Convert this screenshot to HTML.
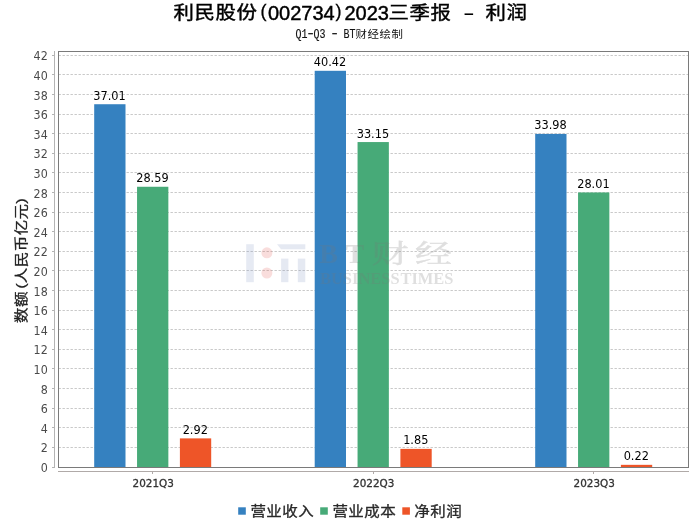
<!DOCTYPE html>
<html lang="zh"><head><meta charset="utf-8"><title>利民股份(002734)2023三季报 - 利润</title>
<style>html,body{margin:0;padding:0;background:#fff}svg{display:block}</style></head>
<body>
<svg width="700" height="524" viewBox="0 0 700 524">
<rect width="700" height="524" fill="#fff"/>
<text transform="translate(173.4,19.3) scale(1.155,1)" font-family="Liberation Sans, Noto Sans CJK SC, sans-serif" font-size="17.7" letter-spacing="0.55" fill="#000" stroke="#000" stroke-width="0.4">利民股份</text>
<text x="260.6" y="17.4" font-family="Liberation Sans, sans-serif" font-size="18" fill="#000" stroke="#000" stroke-width="0.3">(</text>
<text x="268" y="19.5" font-family="Liberation Sans, sans-serif" font-size="20" fill="#000" stroke="#000" stroke-width="0.45" >002734</text>
<text x="335.6" y="17.4" font-family="Liberation Sans, sans-serif" font-size="18" fill="#000" stroke="#000" stroke-width="0.3">)</text>
<text x="344.5" y="19.5" font-family="Liberation Sans, sans-serif" font-size="20" fill="#000" stroke="#000" stroke-width="0.45" >2023</text>
<text transform="translate(388.4,19.3) scale(1.155,1)" font-family="Liberation Sans, Noto Sans CJK SC, sans-serif" font-size="17.7" letter-spacing="0.55" fill="#000" stroke="#000" stroke-width="0.4">三季报</text>
<text transform="translate(463,19.6) scale(1.75,1.05)" font-family="Liberation Sans, sans-serif" font-size="20" fill="#000">-</text>
<text transform="translate(485.4,19.3) scale(1.155,1)" font-family="Liberation Sans, Noto Sans CJK SC, sans-serif" font-size="17.7" letter-spacing="0.55" fill="#000" stroke="#000" stroke-width="0.4">利润</text>
<g transform="translate(295.6,37.8) scale(0.8333,1)"><text x="0" y="0" font-family="Liberation Mono, monospace" font-size="12" fill="#111" stroke="#111" stroke-width="0.15">Q1</text><text x="21.6" y="0" font-family="Liberation Mono, monospace" font-size="12" fill="#111" stroke="#111" stroke-width="0.15">Q3</text><text x="57.6" y="0" font-family="Liberation Mono, monospace" font-size="12" fill="#111" stroke="#111" stroke-width="0.15">BT</text></g>
<text transform="translate(305.75,37.4) scale(1.35,1)" font-family="Liberation Mono, monospace" font-size="12" fill="#111" stroke="#111" stroke-width="0.15">-</text><text transform="translate(329.75,37.4) scale(1.35,1)" font-family="Liberation Mono, monospace" font-size="12" fill="#111" stroke="#111" stroke-width="0.15">-</text>
<g transform="translate(355.6,37.6) scale(1.1,1)"><text x="0" y="0" font-family="Liberation Sans, Noto Sans CJK SC, sans-serif" font-size="10.4" letter-spacing="0.5" fill="#111">财经绘制</text></g>
<line x1="58.5" x2="688.5" y1="467.5" y2="467.5" stroke="#c9c9c9" stroke-width="1" stroke-dasharray="2.4,1.6"/>
<line x1="58.5" x2="688.5" y1="447.5" y2="447.5" stroke="#c9c9c9" stroke-width="1" stroke-dasharray="2.4,1.6"/>
<line x1="58.5" x2="688.5" y1="427.5" y2="427.5" stroke="#c9c9c9" stroke-width="1" stroke-dasharray="2.4,1.6"/>
<line x1="58.5" x2="688.5" y1="408.5" y2="408.5" stroke="#c9c9c9" stroke-width="1" stroke-dasharray="2.4,1.6"/>
<line x1="58.5" x2="688.5" y1="388.5" y2="388.5" stroke="#c9c9c9" stroke-width="1" stroke-dasharray="2.4,1.6"/>
<line x1="58.5" x2="688.5" y1="368.5" y2="368.5" stroke="#c9c9c9" stroke-width="1" stroke-dasharray="2.4,1.6"/>
<line x1="58.5" x2="688.5" y1="349.5" y2="349.5" stroke="#c9c9c9" stroke-width="1" stroke-dasharray="2.4,1.6"/>
<line x1="58.5" x2="688.5" y1="329.5" y2="329.5" stroke="#c9c9c9" stroke-width="1" stroke-dasharray="2.4,1.6"/>
<line x1="58.5" x2="688.5" y1="310.5" y2="310.5" stroke="#c9c9c9" stroke-width="1" stroke-dasharray="2.4,1.6"/>
<line x1="58.5" x2="688.5" y1="290.5" y2="290.5" stroke="#c9c9c9" stroke-width="1" stroke-dasharray="2.4,1.6"/>
<line x1="58.5" x2="688.5" y1="270.5" y2="270.5" stroke="#c9c9c9" stroke-width="1" stroke-dasharray="2.4,1.6"/>
<line x1="58.5" x2="688.5" y1="251.5" y2="251.5" stroke="#c9c9c9" stroke-width="1" stroke-dasharray="2.4,1.6"/>
<line x1="58.5" x2="688.5" y1="231.5" y2="231.5" stroke="#c9c9c9" stroke-width="1" stroke-dasharray="2.4,1.6"/>
<line x1="58.5" x2="688.5" y1="212.5" y2="212.5" stroke="#c9c9c9" stroke-width="1" stroke-dasharray="2.4,1.6"/>
<line x1="58.5" x2="688.5" y1="192.5" y2="192.5" stroke="#c9c9c9" stroke-width="1" stroke-dasharray="2.4,1.6"/>
<line x1="58.5" x2="688.5" y1="172.5" y2="172.5" stroke="#c9c9c9" stroke-width="1" stroke-dasharray="2.4,1.6"/>
<line x1="58.5" x2="688.5" y1="153.5" y2="153.5" stroke="#c9c9c9" stroke-width="1" stroke-dasharray="2.4,1.6"/>
<line x1="58.5" x2="688.5" y1="133.5" y2="133.5" stroke="#c9c9c9" stroke-width="1" stroke-dasharray="2.4,1.6"/>
<line x1="58.5" x2="688.5" y1="114.5" y2="114.5" stroke="#c9c9c9" stroke-width="1" stroke-dasharray="2.4,1.6"/>
<line x1="58.5" x2="688.5" y1="94.5" y2="94.5" stroke="#c9c9c9" stroke-width="1" stroke-dasharray="2.4,1.6"/>
<line x1="58.5" x2="688.5" y1="74.5" y2="74.5" stroke="#c9c9c9" stroke-width="1" stroke-dasharray="2.4,1.6"/>
<line x1="58.5" x2="688.5" y1="55.5" y2="55.5" stroke="#c9c9c9" stroke-width="1" stroke-dasharray="2.4,1.6"/>
<rect x="94.20" y="104.23" width="31.3" height="362.97" fill="#3581c0"/>
<text transform="translate(109.55,99.73) scale(0.93,1)" text-anchor="middle" font-family="DejaVu Sans, Liberation Sans, sans-serif" font-size="12.2" fill="#000">37.01</text>
<rect x="137.05" y="186.76" width="31.3" height="280.44" fill="#47aa78"/>
<text transform="translate(152.40,182.26) scale(0.93,1)" text-anchor="middle" font-family="DejaVu Sans, Liberation Sans, sans-serif" font-size="12.2" fill="#000">28.59</text>
<rect x="179.90" y="438.38" width="31.3" height="28.82" fill="#ee5528"/>
<text transform="translate(195.25,433.88) scale(0.93,1)" text-anchor="middle" font-family="DejaVu Sans, Liberation Sans, sans-serif" font-size="12.2" fill="#000">2.92</text>
<rect x="314.70" y="70.80" width="31.3" height="396.40" fill="#3581c0"/>
<text transform="translate(330.05,66.30) scale(0.93,1)" text-anchor="middle" font-family="DejaVu Sans, Liberation Sans, sans-serif" font-size="12.2" fill="#000">40.42</text>
<rect x="357.55" y="142.06" width="31.3" height="325.14" fill="#47aa78"/>
<text transform="translate(372.90,137.56) scale(0.93,1)" text-anchor="middle" font-family="DejaVu Sans, Liberation Sans, sans-serif" font-size="12.2" fill="#000">33.15</text>
<rect x="400.40" y="448.87" width="31.3" height="18.33" fill="#ee5528"/>
<text transform="translate(415.75,444.37) scale(0.93,1)" text-anchor="middle" font-family="DejaVu Sans, Liberation Sans, sans-serif" font-size="12.2" fill="#000">1.85</text>
<rect x="535.20" y="133.93" width="31.3" height="333.27" fill="#3581c0"/>
<text transform="translate(550.55,129.43) scale(0.93,1)" text-anchor="middle" font-family="DejaVu Sans, Liberation Sans, sans-serif" font-size="12.2" fill="#000">33.98</text>
<rect x="578.05" y="192.45" width="31.3" height="274.75" fill="#47aa78"/>
<text transform="translate(593.40,187.95) scale(0.93,1)" text-anchor="middle" font-family="DejaVu Sans, Liberation Sans, sans-serif" font-size="12.2" fill="#000">28.01</text>
<rect x="620.90" y="464.84" width="31.3" height="2.36" fill="#ee5528"/>
<text transform="translate(636.25,460.34) scale(0.93,1)" text-anchor="middle" font-family="DejaVu Sans, Liberation Sans, sans-serif" font-size="12.2" fill="#000">0.22</text>
<rect x="58.5" y="51.5" width="630.0" height="416.0" fill="none" stroke="#7a7a7a" stroke-width="1"/>
<line x1="54.5" x2="54.5" y1="51" y2="468" stroke="#b4b4b4" stroke-width="1"/>
<line x1="52" x2="54.5" y1="467.5" y2="467.5" stroke="#b4b4b4" stroke-width="1"/>
<text transform="translate(47.7,471.8) scale(0.91,1)" text-anchor="end" font-family="DejaVu Sans, Liberation Sans, sans-serif" font-size="12.2" fill="#4a4a4a">0</text>
<line x1="52" x2="54.5" y1="447.5" y2="447.5" stroke="#b4b4b4" stroke-width="1"/>
<text transform="translate(47.7,451.8) scale(0.91,1)" text-anchor="end" font-family="DejaVu Sans, Liberation Sans, sans-serif" font-size="12.2" fill="#4a4a4a">2</text>
<line x1="52" x2="54.5" y1="427.5" y2="427.5" stroke="#b4b4b4" stroke-width="1"/>
<text transform="translate(47.7,432.8) scale(0.91,1)" text-anchor="end" font-family="DejaVu Sans, Liberation Sans, sans-serif" font-size="12.2" fill="#4a4a4a">4</text>
<line x1="52" x2="54.5" y1="408.5" y2="408.5" stroke="#b4b4b4" stroke-width="1"/>
<text transform="translate(47.7,412.8) scale(0.91,1)" text-anchor="end" font-family="DejaVu Sans, Liberation Sans, sans-serif" font-size="12.2" fill="#4a4a4a">6</text>
<line x1="52" x2="54.5" y1="388.5" y2="388.5" stroke="#b4b4b4" stroke-width="1"/>
<text transform="translate(47.7,393.8) scale(0.91,1)" text-anchor="end" font-family="DejaVu Sans, Liberation Sans, sans-serif" font-size="12.2" fill="#4a4a4a">8</text>
<line x1="52" x2="54.5" y1="368.5" y2="368.5" stroke="#b4b4b4" stroke-width="1"/>
<text transform="translate(47.7,373.8) scale(0.91,1)" text-anchor="end" font-family="DejaVu Sans, Liberation Sans, sans-serif" font-size="12.2" fill="#4a4a4a">10</text>
<line x1="52" x2="54.5" y1="349.5" y2="349.5" stroke="#b4b4b4" stroke-width="1"/>
<text transform="translate(47.7,353.8) scale(0.91,1)" text-anchor="end" font-family="DejaVu Sans, Liberation Sans, sans-serif" font-size="12.2" fill="#4a4a4a">12</text>
<line x1="52" x2="54.5" y1="329.5" y2="329.5" stroke="#b4b4b4" stroke-width="1"/>
<text transform="translate(47.7,334.8) scale(0.91,1)" text-anchor="end" font-family="DejaVu Sans, Liberation Sans, sans-serif" font-size="12.2" fill="#4a4a4a">14</text>
<line x1="52" x2="54.5" y1="310.5" y2="310.5" stroke="#b4b4b4" stroke-width="1"/>
<text transform="translate(47.7,314.8) scale(0.91,1)" text-anchor="end" font-family="DejaVu Sans, Liberation Sans, sans-serif" font-size="12.2" fill="#4a4a4a">16</text>
<line x1="52" x2="54.5" y1="290.5" y2="290.5" stroke="#b4b4b4" stroke-width="1"/>
<text transform="translate(47.7,295.8) scale(0.91,1)" text-anchor="end" font-family="DejaVu Sans, Liberation Sans, sans-serif" font-size="12.2" fill="#4a4a4a">18</text>
<line x1="52" x2="54.5" y1="270.5" y2="270.5" stroke="#b4b4b4" stroke-width="1"/>
<text transform="translate(47.7,275.8) scale(0.91,1)" text-anchor="end" font-family="DejaVu Sans, Liberation Sans, sans-serif" font-size="12.2" fill="#4a4a4a">20</text>
<line x1="52" x2="54.5" y1="251.5" y2="251.5" stroke="#b4b4b4" stroke-width="1"/>
<text transform="translate(47.7,255.8) scale(0.91,1)" text-anchor="end" font-family="DejaVu Sans, Liberation Sans, sans-serif" font-size="12.2" fill="#4a4a4a">22</text>
<line x1="52" x2="54.5" y1="231.5" y2="231.5" stroke="#b4b4b4" stroke-width="1"/>
<text transform="translate(47.7,236.8) scale(0.91,1)" text-anchor="end" font-family="DejaVu Sans, Liberation Sans, sans-serif" font-size="12.2" fill="#4a4a4a">24</text>
<line x1="52" x2="54.5" y1="212.5" y2="212.5" stroke="#b4b4b4" stroke-width="1"/>
<text transform="translate(47.7,216.8) scale(0.91,1)" text-anchor="end" font-family="DejaVu Sans, Liberation Sans, sans-serif" font-size="12.2" fill="#4a4a4a">26</text>
<line x1="52" x2="54.5" y1="192.5" y2="192.5" stroke="#b4b4b4" stroke-width="1"/>
<text transform="translate(47.7,197.8) scale(0.91,1)" text-anchor="end" font-family="DejaVu Sans, Liberation Sans, sans-serif" font-size="12.2" fill="#4a4a4a">28</text>
<line x1="52" x2="54.5" y1="172.5" y2="172.5" stroke="#b4b4b4" stroke-width="1"/>
<text transform="translate(47.7,177.8) scale(0.91,1)" text-anchor="end" font-family="DejaVu Sans, Liberation Sans, sans-serif" font-size="12.2" fill="#4a4a4a">30</text>
<line x1="52" x2="54.5" y1="153.5" y2="153.5" stroke="#b4b4b4" stroke-width="1"/>
<text transform="translate(47.7,157.8) scale(0.91,1)" text-anchor="end" font-family="DejaVu Sans, Liberation Sans, sans-serif" font-size="12.2" fill="#4a4a4a">32</text>
<line x1="52" x2="54.5" y1="133.5" y2="133.5" stroke="#b4b4b4" stroke-width="1"/>
<text transform="translate(47.7,138.8) scale(0.91,1)" text-anchor="end" font-family="DejaVu Sans, Liberation Sans, sans-serif" font-size="12.2" fill="#4a4a4a">34</text>
<line x1="52" x2="54.5" y1="114.5" y2="114.5" stroke="#b4b4b4" stroke-width="1"/>
<text transform="translate(47.7,118.8) scale(0.91,1)" text-anchor="end" font-family="DejaVu Sans, Liberation Sans, sans-serif" font-size="12.2" fill="#4a4a4a">36</text>
<line x1="52" x2="54.5" y1="94.5" y2="94.5" stroke="#b4b4b4" stroke-width="1"/>
<text transform="translate(47.7,99.8) scale(0.91,1)" text-anchor="end" font-family="DejaVu Sans, Liberation Sans, sans-serif" font-size="12.2" fill="#4a4a4a">38</text>
<line x1="52" x2="54.5" y1="74.5" y2="74.5" stroke="#b4b4b4" stroke-width="1"/>
<text transform="translate(47.7,79.8) scale(0.91,1)" text-anchor="end" font-family="DejaVu Sans, Liberation Sans, sans-serif" font-size="12.2" fill="#4a4a4a">40</text>
<line x1="52" x2="54.5" y1="55.5" y2="55.5" stroke="#b4b4b4" stroke-width="1"/>
<text transform="translate(47.7,59.8) scale(0.91,1)" text-anchor="end" font-family="DejaVu Sans, Liberation Sans, sans-serif" font-size="12.2" fill="#4a4a4a">42</text>
<line x1="58" x2="689" y1="471.5" y2="471.5" stroke="#b0aaa8" stroke-width="1"/>
<line x1="152.5" x2="152.5" y1="471.5" y2="474" stroke="#b0aaa8" stroke-width="1"/>
<text x="153.2" y="487" text-anchor="middle" font-family="DejaVu Sans, Liberation Sans, sans-serif" font-size="10.4" fill="#333" stroke="#333" stroke-width="0.3">2021Q3</text>
<line x1="373.5" x2="373.5" y1="471.5" y2="474" stroke="#b0aaa8" stroke-width="1"/>
<text x="373.7" y="487" text-anchor="middle" font-family="DejaVu Sans, Liberation Sans, sans-serif" font-size="10.4" fill="#333" stroke="#333" stroke-width="0.3">2022Q3</text>
<line x1="593.5" x2="593.5" y1="471.5" y2="474" stroke="#b0aaa8" stroke-width="1"/>
<text x="594.2" y="487" text-anchor="middle" font-family="DejaVu Sans, Liberation Sans, sans-serif" font-size="10.4" fill="#333" stroke="#333" stroke-width="0.3">2023Q3</text>
<g transform="translate(26.3,322.9) rotate(-90)"><text transform="scale(1.155,1)" font-family="Liberation Sans, Noto Sans CJK SC, sans-serif" font-size="13.4" letter-spacing="0.42" fill="#222" stroke="#222" stroke-width="0.3">数额</text><text transform="translate(34.2,-1) scale(1.25,1)" font-family="Liberation Sans, sans-serif" font-size="13.5" fill="#222" stroke="#222" stroke-width="0.2">(</text><text transform="translate(39.7,0) scale(1.155,1)" font-family="Liberation Sans, Noto Sans CJK SC, sans-serif" font-size="13.4" letter-spacing="0.42" fill="#222" stroke="#222" stroke-width="0.3">人民币亿元</text><text transform="translate(119.2,-1) scale(1.25,1)" font-family="Liberation Sans, sans-serif" font-size="13.5" fill="#222" stroke="#222" stroke-width="0.2">)</text></g>
<rect x="238.2" y="507.3" width="7.6" height="7.4" fill="#3581c0"/>
<text transform="translate(250.4,515.9) scale(1.155,1)" font-family="Liberation Sans, Noto Sans CJK SC, sans-serif" font-size="13.4" letter-spacing="0.42" fill="#2a2a2a" stroke="#2a2a2a" stroke-width="0.3">营业收入</text>
<rect x="320.2" y="507.3" width="7.6" height="7.4" fill="#47aa78"/>
<text transform="translate(332.4,515.9) scale(1.155,1)" font-family="Liberation Sans, Noto Sans CJK SC, sans-serif" font-size="13.4" letter-spacing="0.42" fill="#2a2a2a" stroke="#2a2a2a" stroke-width="0.3">营业成本</text>
<rect x="402.3" y="507.3" width="7.6" height="7.4" fill="#ee5528"/>
<text transform="translate(414.3,515.9) scale(1.155,1)" font-family="Liberation Sans, Noto Sans CJK SC, sans-serif" font-size="13.4" letter-spacing="0.42" fill="#2a2a2a" stroke="#2a2a2a" stroke-width="0.3">净利润</text>
<g opacity="0.19">
<rect x="246.2" y="244.2" width="7.6" height="38" fill="#7c8fbd"/>
<circle cx="266.9" cy="252.8" r="5.5" fill="#e0524c"/><circle cx="266.9" cy="273" r="5.5" fill="#e0524c"/>
<polygon points="277,244.2 305.3,244.2 305.3,249.2 281,249.2" fill="#7c8fbd"/><rect x="281.1" y="258.6" width="7.3" height="23.6" fill="#7c8fbd"/><rect x="297.8" y="258.6" width="7.5" height="23.6" fill="#7c8fbd"/>
</g><g opacity="0.23">
<text x="319.3" y="263.1" font-family="Liberation Serif, serif" font-size="28" font-weight="bold" fill="#777">B</text>
<text x="345.6" y="263.1" font-family="Liberation Serif, serif" font-size="28" font-weight="bold" fill="#777">T</text>
<text transform="translate(371.5,262.5) scale(1.42,1)" font-family="Liberation Serif, Noto Serif CJK SC, Noto Sans CJK SC, serif" font-size="26" letter-spacing="4.6" fill="#777" stroke="#777" stroke-width="0.5">财经</text>
<text x="320" y="283.6" font-family="Liberation Serif, serif" font-size="16.5" font-weight="bold" word-spacing="-3" fill="#777" textLength="133.5" lengthAdjust="spacingAndGlyphs">BUSINESS TIMES</text>
</g>
</svg>
</body></html>
